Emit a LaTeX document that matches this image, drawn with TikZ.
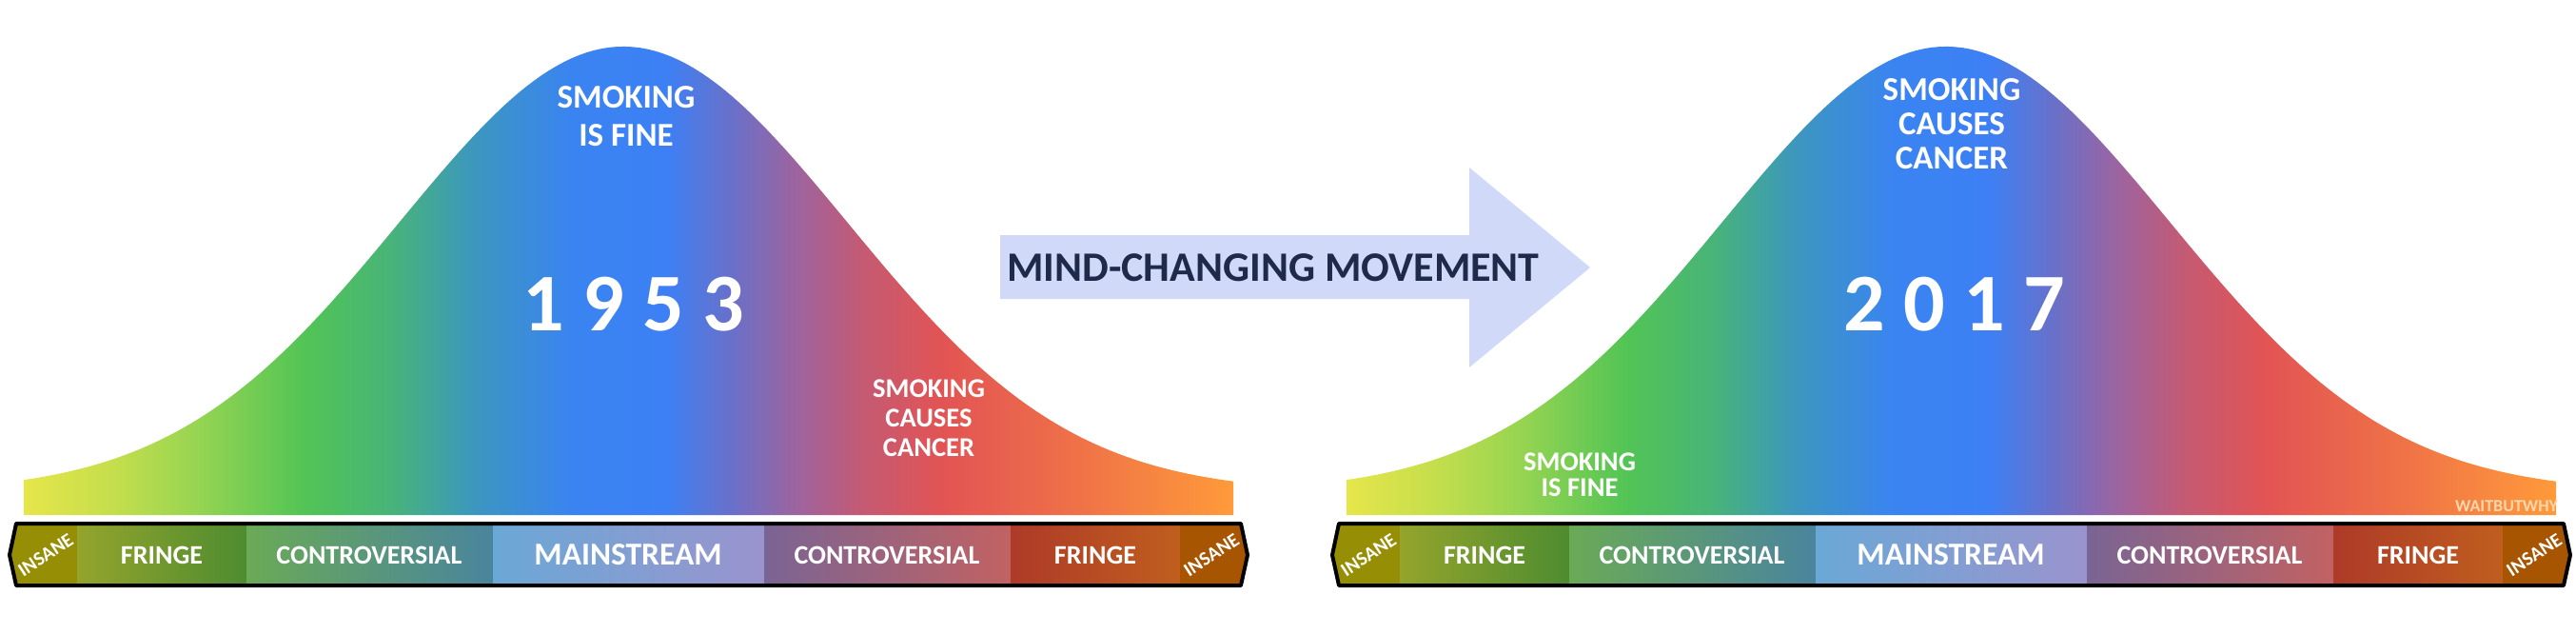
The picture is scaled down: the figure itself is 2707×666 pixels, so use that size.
\documentclass[tikz,border=0pt]{standalone}
\usepackage{fontspec}
\setmainfont{Carlito}
\usetikzlibrary{positioning}

% bell colours
\definecolor{bellA}{HTML}{E6E64A}
\definecolor{bellB}{HTML}{C4DE4C}
\definecolor{bellC}{HTML}{95D452}
\definecolor{bellD}{HTML}{52C455}
\definecolor{bellE}{HTML}{48B478}
\definecolor{bellF}{HTML}{3C96C0}
\definecolor{bellG}{HTML}{3A84F2}
\definecolor{bellH}{HTML}{3D80F5}
\definecolor{bellI}{HTML}{6A70C8}
\definecolor{bellJ}{HTML}{9C64A0}
\definecolor{bellK}{HTML}{C45A74}
\definecolor{bellL}{HTML}{E25454}
\definecolor{bellM}{HTML}{EC6A4A}
\definecolor{bellN}{HTML}{FF9A3A}
% bar colours
\definecolor{insL}{HTML}{968E04}
\definecolor{frgLa}{HTML}{94A42C}
\definecolor{frgLb}{HTML}{4E8C30}
\definecolor{conLa}{HTML}{6AAA56}
\definecolor{conLb}{HTML}{4A849E}
\definecolor{mainA}{HTML}{6AA8D6}
\definecolor{mainB}{HTML}{5E94EA}
\definecolor{mainC}{HTML}{9A94CE}
\definecolor{conRa}{HTML}{7A6494}
\definecolor{conRb}{HTML}{C26262}
\definecolor{frgRa}{HTML}{AE3A28}
\definecolor{frgRb}{HTML}{C05E1E}
\definecolor{insR}{HTML}{A85502}
\definecolor{arrowbg}{HTML}{D0DAF8}
\definecolor{navy}{HTML}{1F2A4A}
\definecolor{wbw}{HTML}{FFD6AE}

\pgfdeclarehorizontalshading{bellshade}{100bp}{color(0bp)=(bellA); color(25bp)=(bellA);
  color(28.74bp)=(bellB); color(32.28bp)=(bellC); color(36.6bp)=(bellD);
  color(40.15bp)=(bellE); color(43.69bp)=(bellF); color(47.62bp)=(bellG);
  color(51.56bp)=(bellH); color(54.31bp)=(bellI); color(56.87bp)=(bellJ);
  color(59.62bp)=(bellK); color(62.96bp)=(bellL); color(67.29bp)=(bellM);
  color(75bp)=(bellN); color(100bp)=(bellN)}

\begin{document}
\begin{tikzpicture}[x=0.1mm, y=-0.1mm,
    barlabel/.style={text=white, inner sep=0pt, font=\fontsize{2.8mm}{3mm}\selectfont\bfseries},
    mainlabel/.style={barlabel, font=\fontsize{3.35mm}{3.6mm}\selectfont\bfseries},
    insanelabel/.style={text=white, inner sep=0pt, rotate=33, font=\fontsize{2.05mm}{2.2mm}\selectfont\bfseries},
    belllabel/.style={text=white, inner sep=0pt, align=center},
    yearlabel/.style={text=white, inner sep=0pt, font=\fontsize{8.6mm}{9mm}\selectfont\bfseries},
    frame/.style={line width=0.4mm, line join=round}
]
    \useasboundingbox (0,0) rectangle (2707,666);

    % the two curves and their scales
    \foreach \dx/\p in {0/a, 1390/b} {
    \begin{scope}[shift={(\dx,0)}]
        \shade[shading=bellshade] plot[domain=25:1296, samples=160]
            (\x, {517-468*exp(-0.5*((\x-655)/235)*((\x-655)/235))})
            -- (1296,541) -- (25,541) -- cycle;

        \fill[insL] (10,583) -- (17,550) -- (81,550) -- (81,615) -- (17,615) -- cycle;
        \shade[left color=frgLa, right color=frgLb] (81,550) rectangle (259,615);
        \shade[left color=conLa, right color=conLb] (259,550) rectangle (518,615);
        \shade[left color=mainA, middle color=mainB, right color=mainC] (518,550) rectangle (803,615);
        \shade[left color=conRa, right color=conRb] (803,550) rectangle (1062,615);
        \shade[left color=frgRa, right color=frgRb] (1062,550) rectangle (1240,615);
        \fill[insR] (1240,550) -- (1304,550) -- (1311,583) -- (1304,615) -- (1240,615) -- cycle;
        \draw[frame] (10,583) -- (17,550) -- (1304,550) -- (1311,583) -- (1304,615) -- (17,615) -- cycle;

        \node[insanelabel] (insane1\p) at (48,583) {INSANE};
        \node[barlabel] (fringe1\p) at (170,583) {FRINGE};
        \node[barlabel] (contro1\p) at (388,583) {CONTROVERSIAL};
        \node[mainlabel] (main\p) at (660,583) {MAINSTREAM};
        \node[barlabel] (contro2\p) at (932,583) {CONTROVERSIAL};
        \node[barlabel] (fringe2\p) at (1151,583) {FRINGE};
        \node[insanelabel] (insane2\p) at (1273,583) {INSANE};
    \end{scope}
    }

    % 1953
    \node[yearlabel] (yearold) at (666,320) {1 9 5 3};
    \node[belllabel, font=\fontsize{3.5mm}{4mm}\selectfont\bfseries] (fineold) at (658,122) {SMOKING\\IS FINE};
    \node[belllabel, font=\fontsize{2.85mm}{3.1mm}\selectfont\bfseries] (cancerold) at (976,439) {SMOKING\\CAUSES\\CANCER};

    % 2017
    \node[yearlabel] (yearnew) at (2054,320) {2 0 1 7};
    \node[belllabel, font=\fontsize{3.5mm}{3.6mm}\selectfont\bfseries] (cancernew) at (2051,130) {SMOKING\\CAUSES\\CANCER};
    \node[belllabel, font=\fontsize{2.85mm}{2.7mm}\selectfont\bfseries] (finenew) at (1660,499) {SMOKING\\IS FINE};
    \node[text=wbw, inner sep=0pt, font=\fontsize{1.8mm}{2mm}\selectfont\bfseries] (wbw) at (2634,532) {WAITBUTWHY};

    % the movement arrow
    \fill[arrowbg] (1051,247) -- (1544,247) -- (1544,176) -- (1671,281)
        -- (1544,386) -- (1544,314) -- (1051,314) -- cycle;
    \node[text=navy, inner sep=0pt, font=\fontsize{4.4mm}{5mm}\selectfont\bfseries] (move) at (1338,281) {MIND-CHANGING MOVEMENT};
\end{tikzpicture}
\end{document}
